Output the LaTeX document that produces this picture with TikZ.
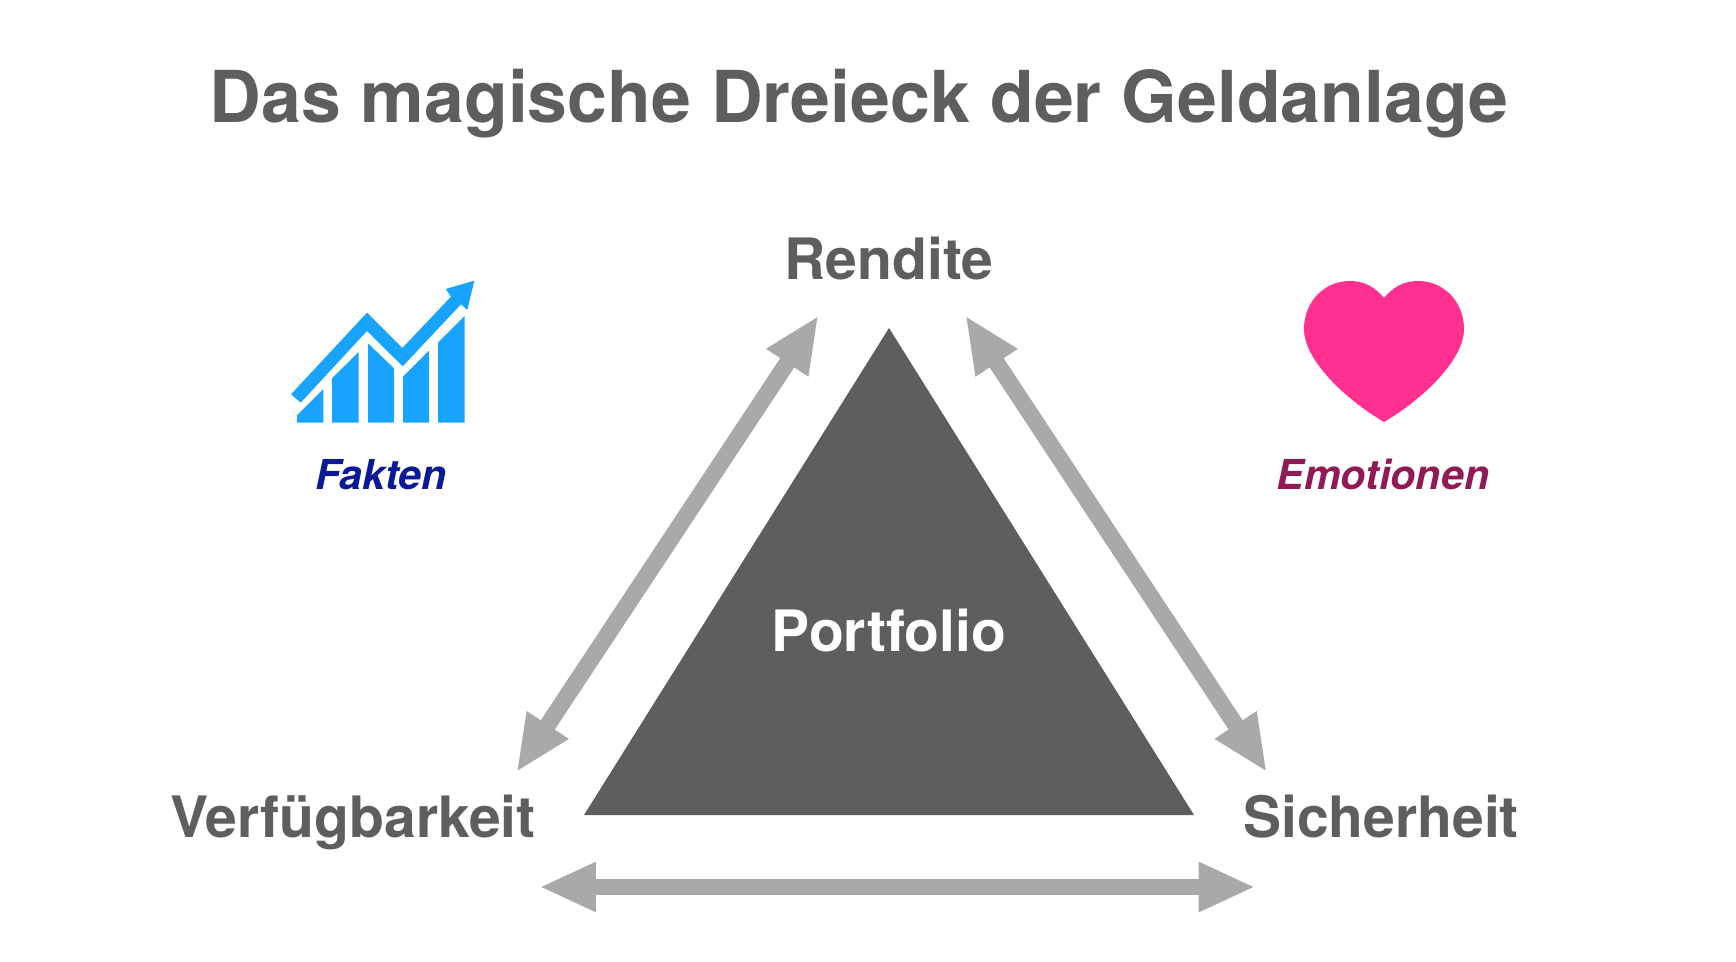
\documentclass[tikz,border=0pt]{standalone}
\usepackage{fontspec}
\setmainfont{TeX Gyre Heros}
\usetikzlibrary{
  arrows.meta,
  positioning
}
\definecolor{magGray}{RGB}{94,94,94}
\definecolor{magArrow}{RGB}{169,169,169}
\definecolor{magBlue}{RGB}{24,163,255}
\definecolor{magPink}{RGB}{255,48,144}
\definecolor{magNavy}{RGB}{10,25,150}
\definecolor{magWine}{RGB}{145,25,85}
\tikzset{
  titleText/.style={
    inner sep=0pt,
    anchor=base,
    text=magGray,
    font=\fontsize{53.7}{60}\selectfont\bfseries
  },
  cornerText/.style={
    inner sep=0pt,
    anchor=base,
    text=magGray,
    font=\fontsize{42.8}{50}\selectfont\bfseries
  },
  sideText/.style={
    inner sep=0pt,
    anchor=base,
    font=\fontsize{30.9}{36}\selectfont\bfseries\itshape
  },
  magArrowLine/.style={
    {Triangle[length=42.5pt,width=34.5pt]}-{Triangle[length=42.5pt,width=34.5pt]},
    line width=12pt,
    draw=magArrow,
    fill=magArrow
  },
  chartPart/.style={
    fill=magBlue,
    rounded corners=0.4pt
  }
}

\begin{document}
\begin{tikzpicture}[x=0.75pt,y=-0.75pt]
  \useasboundingbox (0,0) rectangle (1736,962);

  \coordinate (apex) at (889,328);
  \coordinate (baseLeft) at (584,815);
  \coordinate (baseRight) at (1194,815);
  \fill[magGray] (apex) -- (baseLeft) -- (baseRight) -- cycle;

  \node[titleText] (title) at (859,123) {Das magische Dreieck der Geldanlage};
  \node[cornerText, above=36pt of apex, anchor=base] (rendite) {Rendite};
  \node[cornerText] (verfuegbarkeit) at (353,837) {Verfügbarkeit};
  \node[cornerText] (sicherheit) at (1381,837) {Sicherheit};
  \node[cornerText, text=white] (portfolio) at (889,651) {Portfolio};
  \node[sideText, text=magNavy] (fakten) at (381,490) {Fakten};
  \node[sideText, text=magWine] (emotionen) at (1383,490) {Emotionen};

  % pfeile
  \coordinate (leftTop) at (818.5,315.5);
  \coordinate (leftBottom) at (516.5,772.2);
  \coordinate (rightTop) at (965.4,315.5);
  \coordinate (rightBottom) at (1266.8,772.2);
  \coordinate (bottomLeft) at (539.3,887);
  \coordinate (bottomRight) at (1255.4,887);
  \draw[magArrowLine, line width=12.6pt] (leftTop) -- (leftBottom);
  \draw[magArrowLine, line width=12.6pt] (rightTop) -- (rightBottom);
  \draw[magArrowLine] (bottomLeft) -- (bottomRight);

  % chart icon
  \begin{scope}[shift={(270,260)},x=0.25pt,y=-0.25pt]
    \fill[chartPart] (63,403) -- (291,158) -- (397,264) -- (543,110) -- (527,87) -- (613,62)
      -- (592,150) -- (573,133) -- (398,319) -- (291,213) -- (92,428) -- cycle;
    \fill[chartPart] (81,466) -- (160,387) -- (160,488) -- (81,488) -- cycle;
    \fill[chartPart] (186,355) -- (266,276) -- (266,488) -- (186,488) -- cycle;
    \fill[chartPart] (294,250) -- (372,325) -- (372,488) -- (294,488) -- cycle;
    \fill[chartPart] (399,350) -- (477,272) -- (477,488) -- (399,488) -- cycle;
    \fill[chartPart] (504,248) -- (584,168) -- (584,488) -- (504,488) -- cycle;
  \end{scope}

  % heart icon
  \fill[magPink] (1384,298) .. controls (1375,287) and (1364,281) .. (1350,281)
    .. controls (1324,281) and (1304,302) .. (1304,329)
    .. controls (1304,360) and (1345,399) .. (1384,422)
    .. controls (1423,399) and (1464,360) .. (1464,329)
    .. controls (1464,302) and (1444,281) .. (1418,281)
    .. controls (1404,281) and (1393,287) .. (1384,298) -- cycle;
\end{tikzpicture}
\end{document}
